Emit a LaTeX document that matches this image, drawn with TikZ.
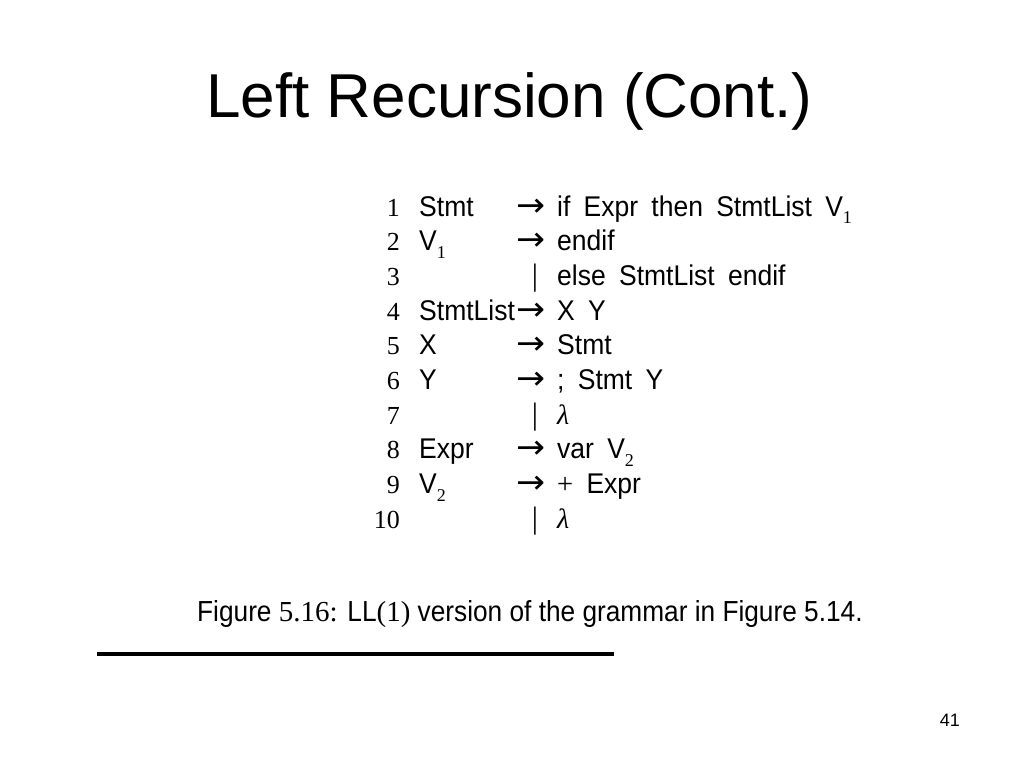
\documentclass[tikz,border=0pt]{standalone}
\usepackage{fontspec}
\setmainfont{Liberation Sans}
\newfontfamily\gramsf{Liberation Sans}[FakeStretch=0.93,WordSpace=1.8]
\newfontfamily\gramrm{Liberation Serif}
\newfontfamily\arrowfont{DejaVu Sans}[FakeStretch=1.05]
\newfontfamily\capsf{Liberation Sans}[FakeStretch=0.905]
\newcommand\subnum[1]{\raisebox{-0.26em}{\fontsize{18}{18}\gramrm #1}}

\begin{document}
\begin{tikzpicture}[
    x=1pt, y=-1pt,
    title/.style={anchor=base west, inner sep=0pt,
                  font=\fontsize{62}{70}\selectfont},
    num/.style={anchor=base east, inner sep=0pt,
                font=\fontsize{26}{30}\gramrm},
    sym/.style={anchor=base west, inner sep=0pt,
                font=\fontsize{33}{30}\arrowfont},
    alt/.style={anchor=base, inner sep=0pt,
                font=\fontsize{31}{36}\gramrm},
    gram/.style={anchor=base west, inner sep=0pt,
                 font=\fontsize{28.5}{32}\gramsf},
    lam/.style={anchor=base west, inner sep=0pt,
                font=\fontsize{28}{30}\gramrm\itshape},
    caption/.style={anchor=base west, inner sep=0pt,
                    font=\fontsize{29}{34}\capsf},
    pgno/.style={anchor=base east, inner sep=0pt,
                 font=\fontsize{18}{22}\selectfont},
    rule/.style={line width=4pt},
  ]
  \useasboundingbox (0,0) rectangle (1024,768);

  % ===== Title =====
  \node[title] (ttl) at (206,117) {Left Recursion (Cont.)};

  % ===== Grammar (numbers | lhs | arrow or bar | rhs) =====
  \node[num] (no1) at (400,216) {1};
  \node[gram] (stmt) at (419,216) {Stmt};
  \node[sym] (ar1) at (516,216) {→};
  \node[gram] (rhs1) at (557,216) {if Expr then StmtList V\subnum{1}};

  \node[num] (no2) at (400,250.7) {2};
  \node[gram] (vone) at (419,250.7) {V\subnum{1}};
  \node[sym] (ar2) at (516,250.7) {→};
  \node[gram] (rhs2) at (557,250.7) {endif};

  \node[num] (no3) at (400,285.4) {3};
  \node[alt] (bar3) at (535,285.4) {|};
  \node[gram] (rhs3) at (557,285.4) {else StmtList endif};

  \node[num] (no4) at (400,320.1) {4};
  \node[gram] (slist) at (419,320.1) {StmtList};
  \node[sym] (ar4) at (516,320.1) {→};
  \node[gram] (rhs4) at (557,320.1) {X Y};

  \node[num] (no5) at (400,354.8) {5};
  \node[gram] (xnt) at (419,354.8) {X};
  \node[sym] (ar5) at (516,354.8) {→};
  \node[gram] (rhs5) at (557,354.8) {Stmt};

  \node[num] (no6) at (400,389.5) {6};
  \node[gram] (ynt) at (419,389.5) {Y};
  \node[sym] (ar6) at (516,389.5) {→};
  \node[gram] (rhs6) at (557,389.5) {; Stmt Y};

  \node[num] (no7) at (400,424.2) {7};
  \node[alt] (bar7) at (535,424.2) {|};
  \node[lam] (rhs7) at (557,424.2) {λ};

  \node[num] (no8) at (400,458.9) {8};
  \node[gram] (expr) at (419,458.9) {Expr};
  \node[sym] (ar8) at (516,458.9) {→};
  \node[gram] (rhs8) at (557,458.9) {var V\subnum{2}};

  \node[num] (no9) at (400,493.6) {9};
  \node[gram] (vtwo) at (419,493.6) {V\subnum{2}};
  \node[sym] (ar9) at (516,493.6) {→};
  \node[gram] (rhs9) at (557,493.6) {{\gramrm +} Expr};

  \node[num] (no10) at (400,528.3) {10};
  \node[alt] (bar10) at (535,528.3) {|};
  \node[lam] (rhs10) at (557,528.3) {λ};

  % ===== Caption and rule =====
  \node[caption] (cap) at (197,621)
    {Figure {\gramrm 5.16:} LL{\gramrm (1)} version of the grammar in Figure 5.14.};

  \coordinate (rl) at (97,654);
  \coordinate (rr) at (614,654);
  \draw[rule] (rl) -- (rr);

  % page number
  \node[pgno] (pg) at (960,726) {41};

\end{tikzpicture}
\end{document}
